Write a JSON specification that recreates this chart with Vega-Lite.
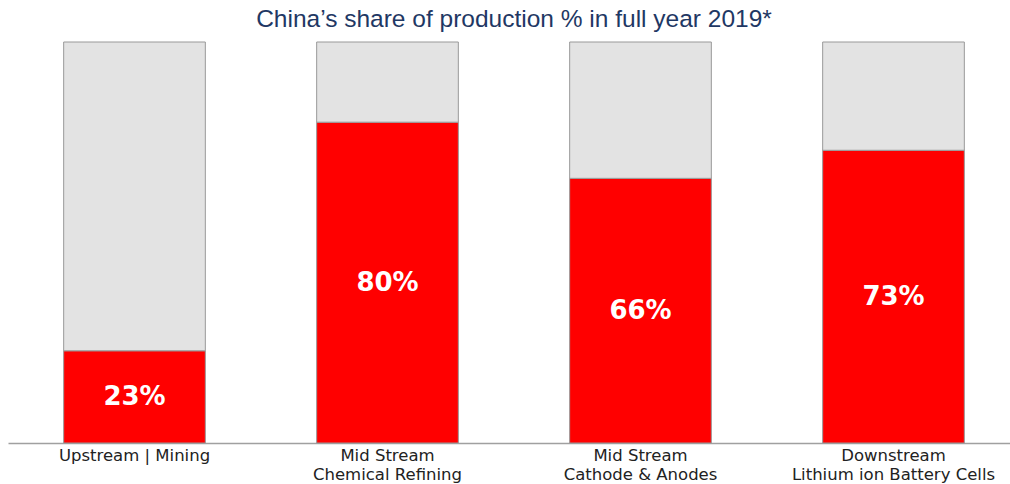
{
  "$schema": "https://vega.github.io/schema/vega-lite/v6.json",
  "autosize": "none",
  "width": 1012,
  "height": 401,
  "padding": {"left": 8, "top": 42, "right": 0, "bottom": 41},
  "background": "white",
  "title": {
    "text": "China’s share of production % in full year 2019*",
    "font": "Liberation Sans",
    "fontSize": 24.5,
    "fontWeight": "normal",
    "color": "#1f3864",
    "anchor": "middle",
    "offset": 9
  },
  "data": {
    "values": [
      {"stage": "Upstream | Mining", "group": "China", "value": 23},
      {"stage": "Upstream | Mining", "group": "Rest", "value": 77},
      {"stage": "Mid Stream;Chemical Refining", "group": "China", "value": 80},
      {"stage": "Mid Stream;Chemical Refining", "group": "Rest", "value": 20},
      {"stage": "Mid Stream;Cathode & Anodes", "group": "China", "value": 66},
      {"stage": "Mid Stream;Cathode & Anodes", "group": "Rest", "value": 34},
      {"stage": "Downstream;Lithium ion Battery Cells", "group": "China", "value": 73},
      {"stage": "Downstream;Lithium ion Battery Cells", "group": "Rest", "value": 27}
    ]
  },
  "encoding": {
    "x": {
      "field": "stage",
      "type": "nominal",
      "sort": null,
      "scale": {"paddingInner": 0.44, "paddingOuter": 0.22},
      "axis": {
        "title": null,
        "labelAngle": 0,
        "ticks": false,
        "domainColor": "#a0a0a0",
        "domainWidth": 1.5,
        "labelPadding": 4,
        "labelFont": "DejaVu Sans",
        "labelFontSize": 16.5,
        "labelColor": "#222222",
        "labelLineHeight": 19,
        "labelBaseline": "top",
        "labelOverlap": false,
        "labelBound": false,
        "labelLimit": 400,
        "labelExpr": "split(datum.value, ';')"
      }
    }
  },
  "layer": [
    {
      "mark": {"type": "bar", "stroke": "#999999", "strokeWidth": 1},
      "encoding": {
        "y": {
          "field": "value",
          "type": "quantitative",
          "stack": "zero",
          "scale": {"domain": [0, 100]},
          "axis": null
        },
        "order": {"field": "group", "sort": "ascending"},
        "color": {
          "field": "group",
          "type": "nominal",
          "scale": {"domain": ["China", "Rest"], "range": ["#ff0000", "#e3e3e3"]},
          "legend": null
        }
      }
    },
    {
      "transform": [{"filter": "datum.group == 'China'"}],
      "mark": {
        "type": "text",
        "color": "white",
        "font": "DejaVu Sans",
        "fontWeight": "bold",
        "fontSize": 26,
        "baseline": "middle",
        "align": "center",
        "text": {"expr": "datum.value + '%'"}
      },
      "encoding": {
        "y": {
          "field": "value",
          "type": "quantitative",
          "stack": null,
          "scale": {"domain": [0, 200]},
          "axis": null
        }
      }
    }
  ],
  "resolve": {"scale": {"y": "independent"}},
  "config": {"view": {"stroke": null}}
}
